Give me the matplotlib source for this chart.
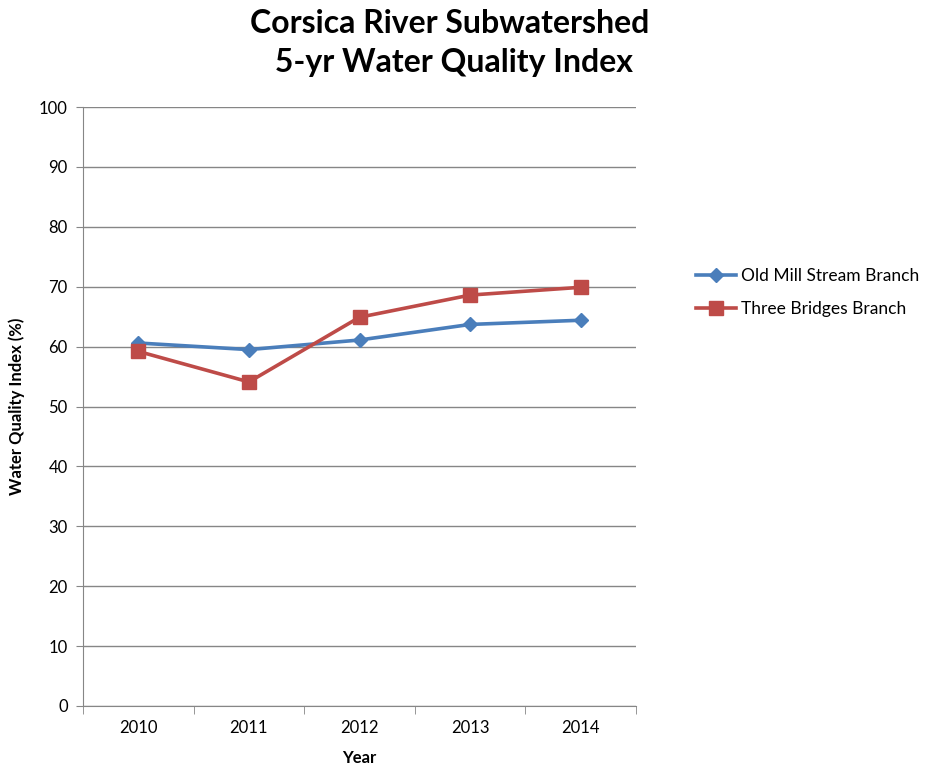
import numpy as np
import matplotlib as mpl
import matplotlib.pyplot as plt

mpl.rcParams.update({
    "font.family": ["Lato", "DejaVu Sans"],
    "font.size": 11,
})

years = ["2010", "2011", "2012", "2013", "2014"]
old_mill = [60.6, 59.5, 61.1, 63.7, 64.4]
three_bridges = [59.2, 54.1, 64.9, 68.6, 69.9]
y_ticks = list(range(0, 101, 10))

BLUE = "#4a7ebb"
RED = "#be4b48"
GRID = "#868686"

fig = plt.figure(figsize=(9.3, 7.74), dpi=100)
ax = fig.add_axes([83 / 930, 1 - 706 / 774, 553 / 930, 599 / 774])

x = np.arange(len(years))
ax.plot(x, old_mill, color=BLUE, lw=2.6, marker="D", ms=7.5,
        label="Old Mill Stream Branch", zorder=3)
ax.plot(x, three_bridges, color=RED, lw=2.6, marker="s", ms=10,
        label="Three Bridges Branch", zorder=3)

ax.set_xlim(-0.5, len(years) - 0.5)
ax.set_ylim(0, 100)
ax.set_yticks(y_ticks)
ax.set_yticklabels([str(v) for v in y_ticks], fontsize=12)
ax.set_xticks(x)
ax.set_xticklabels(years, fontsize=12)
# category boundaries carry the tick marks
ax.set_xticks(np.arange(len(years) + 1) - 0.5, minor=True)
ax.tick_params(axis="x", which="major", length=0, pad=10)
ax.tick_params(axis="x", which="minor", length=6, color=GRID, direction="out")
ax.tick_params(axis="y", length=5, color=GRID, direction="out", pad=6)

ax.yaxis.grid(True, color=GRID, lw=1)
ax.set_axisbelow(True)
for side in ["top", "right"]:
    ax.spines[side].set_visible(False)
for side in ["left", "bottom"]:
    ax.spines[side].set_color(GRID)

ax.set_xlabel("Year", fontsize=12, fontweight="bold", labelpad=10)
ax.set_ylabel("Water Quality Index (%)", fontsize=12, fontweight="bold", labelpad=10)

fig.text(450 / 930, 1 - 43 / 774, "Corsica River Subwatershed\n 5-yr Water Quality Index",
         ha="center", va="center", fontsize=23, fontweight="bold", linespacing=1.45)

ax.legend(loc="center left", bbox_to_anchor=(1.08, 0.69), frameon=False,
          fontsize=12.5, handlelength=2.3, labelspacing=1.0, handletextpad=0.3)

fig.savefig("out.png", dpi=100)
